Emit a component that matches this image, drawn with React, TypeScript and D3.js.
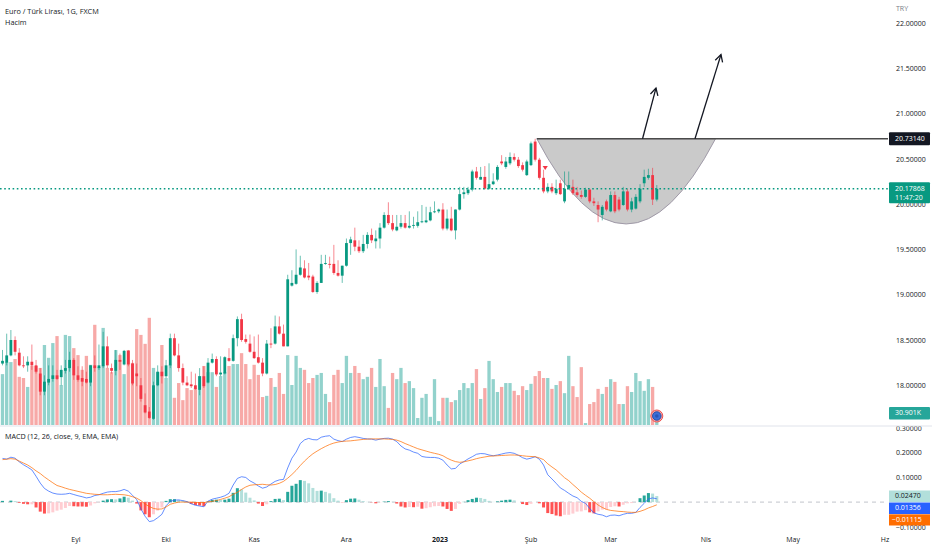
import React from 'react';
import * as d3 from 'd3';

const W = 932;
const H = 550;
const FONT = "'Open Sans', 'Noto Sans', sans-serif";

// ---- Daily OHLC (EUR/TRY, FXCM) ----
const opens = [18.25,18.26,18.34,18.51,18.37,18.23,18.23,18.27,18.23,18.14,
17.94,18.04,18.08,18.12,18.10,18.17,18.20,18.29,18.12,18.09,
18.08,18.04,18.23,18.20,18.22,18.44,18.20,18.17,18.29,18.24,
18.39,18.25,18.14,18.01,17.79,17.72,17.64,18.01,18.16,18.11,
18.23,18.53,18.34,18.20,18.04,18.02,18.01,17.96,18.11,18.04,
18.26,18.30,18.13,18.14,18.31,18.28,18.53,18.74,18.52,18.47,
18.38,18.32,18.26,18.14,18.47,18.47,18.66,18.58,18.44,19.11,
19.13,19.23,19.30,19.22,19.21,19.04,19.14,19.35,19.35,19.35,
19.25,19.22,19.33,19.58,19.61,19.54,19.49,19.57,19.67,19.60,
19.63,19.75,19.89,19.80,19.72,19.76,19.80,19.75,19.77,19.77,
19.81,19.81,19.83,19.92,19.93,19.95,19.74,19.85,19.72,19.95,
20.12,20.13,20.17,20.37,20.28,20.31,20.18,20.23,20.28,20.48,
20.42,20.46,20.53,20.50,20.44,20.33,20.44,20.70,20.50,20.30,
20.15,20.20,20.13,20.24,20.04,20.18,20.20,20.14,20.11,20.09,
20.17,20.04,20.00,19.89,20.04,19.93,20.11,20.06,20.00,20.15,
19.95,19.96,20.04,20.24,20.30,20.33,20.06];

const highs = [18.40,18.58,18.62,18.55,18.42,18.33,18.33,18.46,18.29,18.20,
18.12,18.23,18.23,18.18,18.23,18.29,18.38,18.31,18.22,18.22,
18.16,18.23,18.34,18.46,18.60,18.55,18.25,18.40,18.36,18.40,
18.40,18.29,18.25,18.09,17.92,17.77,18.05,18.23,18.22,18.29,
18.58,18.58,18.47,18.25,18.11,18.16,18.14,18.20,18.22,18.31,
18.36,18.33,18.33,18.33,18.42,18.57,18.77,18.80,18.57,18.57,
18.55,18.57,18.31,18.51,18.64,18.78,18.77,18.68,19.23,19.28,
19.51,19.44,19.39,19.36,19.23,19.16,19.45,19.45,19.43,19.56,
19.39,19.33,19.63,19.65,19.75,19.61,19.67,19.70,19.74,19.72,
19.80,19.92,20.03,19.89,19.89,19.89,19.89,19.93,19.87,19.93,
20.00,19.98,19.98,20.04,19.96,20.02,19.95,19.98,19.95,20.20,
20.20,20.20,20.39,20.42,20.42,20.43,20.46,20.35,20.44,20.55,
20.53,20.58,20.57,20.53,20.47,20.50,20.70,20.7314,20.52,20.39,
20.24,20.24,20.28,20.28,20.37,20.37,20.28,20.20,20.16,20.19,
20.18,20.08,20.04,20.00,20.06,20.15,20.15,20.09,20.20,20.18,
20.08,20.12,20.23,20.39,20.40,20.41,20.22];

const lows = [18.23,18.23,18.33,18.34,18.22,18.20,18.16,18.18,18.14,17.90,
17.90,18.01,18.05,18.07,18.01,18.14,18.16,18.07,18.05,18.00,
18.03,18.00,18.16,18.18,18.20,18.20,18.14,18.12,18.18,18.23,
18.22,18.01,18.00,17.83,17.70,17.64,17.63,18.00,18.03,18.09,
18.20,18.33,18.16,18.01,18.00,17.98,17.96,17.90,17.98,18.03,
18.25,18.11,18.11,18.13,18.27,18.27,18.44,18.49,18.47,18.37,
18.30,18.25,18.11,18.13,18.42,18.46,18.57,18.44,18.44,19.10,
19.12,19.22,19.19,19.17,19.03,19.02,19.14,19.34,19.30,19.23,
19.21,19.14,19.32,19.45,19.49,19.47,19.47,19.52,19.58,19.52,
19.52,19.74,19.78,19.71,19.71,19.74,19.74,19.74,19.74,19.75,
19.80,19.80,19.82,19.91,19.91,19.72,19.72,19.71,19.62,19.94,
20.07,20.11,20.15,20.28,20.28,20.17,20.17,20.22,20.26,20.44,
20.40,20.44,20.48,20.41,20.37,20.32,20.43,20.48,20.28,20.13,
20.13,20.13,20.11,20.11,20.02,20.17,20.11,20.09,20.07,20.08,
20.02,19.99,19.81,19.83,19.93,19.92,19.91,19.93,19.99,19.93,
19.92,19.95,20.02,20.20,20.28,20.00,20.04];

const closes = [18.28,18.34,18.51,18.38,18.23,18.22,18.27,18.23,18.16,17.94,
18.05,18.08,18.12,18.08,18.18,18.20,18.29,18.12,18.07,18.05,
18.04,18.23,18.20,18.23,18.44,18.23,18.17,18.29,18.27,18.39,
18.24,18.03,18.11,17.86,17.71,17.65,18.01,18.16,18.11,18.23,
18.53,18.34,18.20,18.04,18.01,18.00,17.97,18.11,18.00,18.26,
18.30,18.13,18.15,18.32,18.28,18.53,18.74,18.51,18.49,18.38,
18.31,18.26,18.14,18.47,18.46,18.66,18.58,18.44,19.18,19.14,
19.23,19.31,19.20,19.20,19.04,19.14,19.35,19.36,19.34,19.25,
19.22,19.33,19.58,19.62,19.54,19.49,19.57,19.67,19.61,19.63,
19.75,19.89,19.80,19.73,19.76,19.80,19.75,19.77,19.78,19.81,
19.82,19.83,19.92,19.93,19.95,19.74,19.85,19.72,19.95,20.12,
20.14,20.17,20.37,20.30,20.31,20.18,20.23,20.26,20.42,20.46,
20.48,20.53,20.50,20.43,20.39,20.48,20.68,20.50,20.30,20.15,
20.20,20.15,20.18,20.12,20.18,20.22,20.13,20.11,20.09,20.17,
20.04,20.02,19.95,19.98,19.95,20.11,19.93,19.95,20.15,19.95,
20.04,20.09,20.18,20.31,20.33,20.06,20.17868];

// ---- Volume (K) ----
const volumes = [131,162,162,170,124,121,98,152,152,147,
206,173,211,229,103,232,229,198,180,142,
178,155,258,149,250,147,136,193,180,131,
193,160,247,232,209,276,147,136,206,121,
155,70,108,64,95,90,95,126,152,136,
136,98,126,136,152,157,157,185,157,118,
155,129,72,75,121,98,134,80,180,103,
178,147,142,108,121,129,134,80,59,129,
142,108,178,134,152,134,118,124,147,98,
170,100,44,134,118,147,108,113,95,18,
70,80,21,118,10,70,70,59,64,90,
108,95,108,144,67,95,165,118,85,98,
108,108,88,77,100,90,106,126,139,121,
121,93,103,113,82,178,100,72,149,5,
54,59,93,80,98,118,111,54,54,100,
85,134,113,88,118,98,30.901];

// ---- MACD (12, 26, close, 9) ----
const macdLine = [0.179,0.176,0.184,0.180,0.165,0.153,0.143,0.132,0.106,0.078,
0.056,0.045,0.037,0.033,0.032,0.033,0.036,0.031,0.026,0.022,
0.017,0.020,0.027,0.030,0.036,0.041,0.043,0.043,0.046,0.052,
0.045,0.028,0.010,-0.028,-0.058,-0.080,-0.076,-0.064,-0.050,-0.015,
0.003,0.008,0.009,0.006,0.002,-0.007,-0.013,-0.016,-0.019,0.004,
0.012,0.016,0.020,0.026,0.036,0.070,0.097,0.104,0.101,0.087,
0.078,0.066,0.057,0.062,0.074,0.085,0.091,0.093,0.140,0.180,
0.205,0.240,0.255,0.261,0.256,0.255,0.266,0.270,0.272,0.258,
0.252,0.248,0.258,0.265,0.268,0.265,0.261,0.259,0.258,0.254,
0.258,0.261,0.262,0.258,0.248,0.230,0.218,0.213,0.205,0.200,
0.187,0.184,0.183,0.183,0.180,0.172,0.152,0.136,0.138,0.156,
0.166,0.177,0.186,0.196,0.199,0.198,0.193,0.190,0.193,0.197,
0.201,0.203,0.200,0.192,0.182,0.176,0.180,0.186,0.176,0.152,
0.112,0.095,0.077,0.058,0.048,0.036,0.025,0.018,0.003,-0.005,
-0.026,-0.044,-0.050,-0.053,-0.060,-0.054,-0.053,-0.056,-0.050,-0.046,
-0.046,-0.042,-0.022,-0.005,0.013,0.017,0.01356];

const signalLine = [0.174,0.176,0.178,0.176,0.168,0.160,0.152,0.141,0.128,0.117,
0.103,0.091,0.079,0.068,0.063,0.057,0.052,0.048,0.044,0.040,
0.036,0.034,0.032,0.031,0.030,0.030,0.031,0.032,0.031,0.030,
0.027,0.022,0.016,0.006,-0.008,-0.018,-0.026,-0.029,-0.028,-0.020,
-0.009,-0.004,0.000,0.000,0.000,0.000,-0.001,-0.002,-0.002,0.001,
0.003,0.006,0.011,0.016,0.022,0.032,0.040,0.052,0.062,0.069,
0.071,0.072,0.073,0.071,0.070,0.072,0.077,0.085,0.098,0.113,
0.130,0.150,0.168,0.184,0.198,0.209,0.219,0.228,0.236,0.242,
0.246,0.249,0.250,0.251,0.253,0.255,0.257,0.258,0.259,0.259,
0.259,0.259,0.258,0.257,0.254,0.248,0.240,0.233,0.226,0.219,
0.214,0.209,0.204,0.200,0.196,0.190,0.180,0.172,0.166,0.163,
0.165,0.169,0.173,0.178,0.182,0.185,0.188,0.189,0.190,0.191,
0.192,0.193,0.193,0.192,0.190,0.188,0.187,0.186,0.181,0.174,
0.157,0.144,0.132,0.116,0.100,0.088,0.072,0.057,0.041,0.028,
0.016,0.002,-0.012,-0.022,-0.030,-0.034,-0.036,-0.038,-0.039,-0.041,
-0.042,-0.042,-0.038,-0.032,-0.024,-0.018,-0.01115];

// ---- Axis ticks ----
const timeLabels = ['Eyl', 'Eki', 'Kas', 'Ara', '2023', 'Şub', 'Mar', 'Nis', 'May', 'Hz'];
const timeLabelIndex = [17.5, 39, 60, 82, 104.3, 126, 145, 167.7, 188.5, 210.4];
const priceTicks = [18, 18.5, 19, 19.5, 20, 20.5, 21, 21.5, 22];
const macdTicks = [0.3, 0.2, 0.1, -0.1];

// ---- Drawing annotations (bar index / price) ----
const levelPrice = 20.7314;
const cupStartIndex = 127.4;
const cupEndIndex = 170;
const cupControl = { i: 148.7, p: 18.85 };
const arrows = [
  { i1: 152.6, p1: 20.7314, i2: 155.8, p2: 21.29 },
  { i1: 165.1, p1: 20.7314, i2: 171.3, p2: 21.66 },
];
const eventMarker = { i: 129.4, p: 20.43 };
const lastPrice = 20.17868;
const countdown = '11:47:20';
const lastVolumeLabel = '30.901K';
const lastHistLabel = '0.02470';

const UP = '#089981';
const DOWN = '#f23645';

export default function App() {
  const n = closes.length;
  const x = d3.scaleLinear().domain([0, n - 1]).range([2.5, 656.8]);
  const yP = d3.scaleLinear().domain([18, 22]).range([386.2, 23.8]);
  const yV = d3.scaleLinear().domain([0, 30.901]).range([425, 413]);
  const yM = d3.scaleLinear().domain([-0.1, 0.3]).range([526.5, 428.9]);

  const hist = macdLine.map((m, i) => m - signalLine[i]);
  const histColor = (i: number) => {
    const h = hist[i];
    const prev = i > 0 ? hist[i - 1] : h;
    if (h >= 0) return h >= prev ? '#26a69a' : '#b2dfdb';
    return h <= prev ? '#ff5252' : '#ffcdd2';
  };

  const lineGen = d3.line<number>().x((_, i) => x(i)).y((d) => yM(d));

  const cupPath = `M${x(cupStartIndex)},${yP(levelPrice)} Q${x(cupControl.i)},${yP(cupControl.p)} ${x(cupEndIndex)},${yP(levelPrice)} Z`;

  const arrowHead = (x1: number, y1: number, x2: number, y2: number) => {
    const a = Math.atan2(y2 - y1, x2 - x1);
    const L = 8, s = 0.5;
    const ax = x2 - L * Math.cos(a - s), ay = y2 - L * Math.sin(a - s);
    const bx = x2 - L * Math.cos(a + s), by = y2 - L * Math.sin(a + s);
    return `M${ax},${ay} L${x2},${y2} L${bx},${by}`;
  };

  const plotRight = 888;
  const fmt5 = d3.format('.5f');

  return (
    <svg width={W} height={H} style={{ position: 'fixed', left: 0, top: 0, background: '#ffffff' }} fontFamily={FONT}>
      <defs>
        <clipPath id="priceClip"><rect x={0} y={0} width={plotRight} height={426} /></clipPath>
        <clipPath id="macdClip"><rect x={0} y={426.5} width={plotRight} height={104} /></clipPath>
        <clipPath id="macdAxisClip"><rect x={plotRight} y={426.5} width={W - plotRight} height={104} /></clipPath>
      </defs>
      <rect x={0} y={0} width={W} height={H} fill="#ffffff" />

      <g clipPath="url(#priceClip)">
        {/* volume */}
        {volumes.map((v, i) => (
          <rect key={'v' + i} x={x(i) - 1.65} width={3.3} y={yV(v)} height={yV(0) - yV(v)}
            fill={closes[i] >= opens[i] ? '#26a69a' : '#ef5350'} fillOpacity={0.5} />
        ))}
        {/* cup drawing */}
        <path d={cupPath} fill="#c4c4c4" fillOpacity={0.9} stroke="#a09aa8" strokeWidth={1} />
        {/* candles */}
        {closes.map((c, i) => {
          const o = opens[i];
          const up = c >= o;
          const col = up ? UP : DOWN;
          const top = yP(Math.max(o, c));
          const bot = yP(Math.min(o, c));
          return (
            <g key={'c' + i}>
              <line x1={x(i)} x2={x(i)} y1={yP(Math.max(highs[i], o, c))} y2={yP(Math.min(lows[i], o, c))}
                stroke={col} strokeWidth={0.8} strokeOpacity={0.75} />
              <rect x={x(i) - 1.4} width={2.8} y={top} height={Math.max(0.8, bot - top)} fill={col} />
            </g>
          );
        })}
        {/* level line */}
        <line x1={x(cupStartIndex)} x2={plotRight} y1={yP(levelPrice)} y2={yP(levelPrice)} stroke="#4a4a4a" strokeWidth={1.6} />
        {/* arrows */}
        {arrows.map((a, k) => (
          <g key={'a' + k} stroke="#131722" strokeWidth={1.3} fill="none">
            <line x1={x(a.i1)} y1={yP(a.p1)} x2={x(a.i2)} y2={yP(a.p2)} />
            <path d={arrowHead(x(a.i1), yP(a.p1), x(a.i2), yP(a.p2))} />
          </g>
        ))}
        {/* event marker */}
        <path d={`M${x(eventMarker.i) - 2.6},${yP(eventMarker.p)} L${x(eventMarker.i) + 2.6},${yP(eventMarker.p)} L${x(eventMarker.i)},${yP(eventMarker.p) + 4} Z`} fill="#f23645" />
        {/* last price dotted line */}
        <line x1={0} x2={plotRight} y1={yP(lastPrice)} y2={yP(lastPrice)} stroke={UP} strokeWidth={1.6} strokeDasharray="1.6 2.6" />
        {/* live bar icon */}
        <circle cx={x(n - 1)} cy={416} r={6} fill="#f7a9a7" stroke="#ef5350" strokeWidth={1} />
        <circle cx={x(n - 1)} cy={416} r={4.3} fill="#3c6fd8" stroke="#1d3f9a" strokeWidth={0.8} />
        <circle cx={x(n - 1)} cy={416} r={1.8} fill="#2a55b8" />
      </g>

      {/* pane separator */}
      <line x1={0} x2={W} y1={426} y2={426} stroke="#e0e3eb" strokeWidth={1} />

      {/* MACD pane */}
      <g clipPath="url(#macdClip)">
        <line x1={0} x2={plotRight} y1={yM(0)} y2={yM(0)} stroke="#b2b5be" strokeWidth={0.8} strokeDasharray="4 4" />
        {hist.map((h, i) => (
          <rect key={'h' + i} x={x(i) - 1.5} width={3} y={Math.min(yM(0), yM(h))} height={Math.abs(yM(h) - yM(0))} fill={histColor(i)} />
        ))}
        <path d={lineGen(macdLine) || ''} fill="none" stroke="#2962ff" strokeWidth={0.9} strokeOpacity={0.8} />
        <path d={lineGen(signalLine) || ''} fill="none" stroke="#ff6d00" strokeWidth={0.9} strokeOpacity={0.8} />
      </g>

      {/* Legends */}
      <text x={5} y={12} fontSize={7.3} fill="#131722" dominantBaseline="middle">Euro / Türk Lirası, 1G, FXCM</text>
      <text x={5} y={23.5} fontSize={7.3} fill="#131722" dominantBaseline="middle">Hacim</text>
      <text x={5} y={437.5} fontSize={7.2} fill="#131722" dominantBaseline="middle">MACD (12, 26, close, 9, EMA, EMA)</text>

      {/* Price axis */}
      <text x={896} y={9.5} fontSize={7} fill="#787b86" dominantBaseline="middle">TRY</text>
      {priceTicks.map((p) => (
        <text key={'pt' + p} x={896} y={yP(p)} fontSize={7} fill="#131722" dominantBaseline="middle">{fmt5(p)}</text>
      ))}
      <g clipPath="url(#macdAxisClip)">
        {macdTicks.map((m) => (
          <text key={'mt' + m} x={896} y={m < 0 ? yM(m) + 1.5 : yM(m)} fontSize={7} fill="#131722" dominantBaseline="middle">{fmt5(m).replace('-', '−')}</text>
        ))}
      </g>

      {/* Value boxes */}
      <rect x={889} y={yP(levelPrice) - 6.5} width={41} height={13} fill="#131722" rx={1} />
      <text x={895} y={yP(levelPrice)} fontSize={7} fill="#ffffff" dominantBaseline="middle">{fmt5(levelPrice)}</text>

      <rect x={889} y={yP(lastPrice) - 6.5} width={41} height={21} fill={UP} rx={1} />
      <text x={895} y={yP(lastPrice)} fontSize={7} fill="#ffffff" dominantBaseline="middle">{fmt5(lastPrice)}</text>
      <text x={895} y={yP(lastPrice) + 9.5} fontSize={7} fill="#ffffff" dominantBaseline="middle">{countdown}</text>

      <rect x={889} y={yV(volumes[n - 1]) - 6} width={41} height={12.5} fill="#26a69a" rx={1} />
      <text x={895} y={yV(volumes[n - 1])} fontSize={7} fill="#ffffff" dominantBaseline="middle">{lastVolumeLabel}</text>

      <rect x={889} y={490.5} width={41} height={11.5} fill="#b2dfdb" />
      <text x={895} y={496.3} fontSize={7} fill="#131722" dominantBaseline="middle">{lastHistLabel}</text>
      <rect x={889} y={502.5} width={41} height={11.5} fill="#2962ff" />
      <text x={895} y={508.3} fontSize={7} fill="#ffffff" dominantBaseline="middle">{fmt5(macdLine[n - 1])}</text>
      <rect x={889} y={514.3} width={41} height={11.2} fill="#ff6d00" />
      <text x={892} y={519.9} fontSize={7} fill="#ffffff" dominantBaseline="middle">{fmt5(signalLine[n - 1]).replace('-', '−')}</text>

      {/* Time axis */}
      {timeLabels.map((t, k) => (
        <text key={'t' + k} x={x(timeLabelIndex[k])} y={540} fontSize={7} fill="#131722" textAnchor="middle" dominantBaseline="middle"
          fontWeight={t === '2023' ? 700 : 400}>{t}</text>
      ))}
    </svg>
  );
}
